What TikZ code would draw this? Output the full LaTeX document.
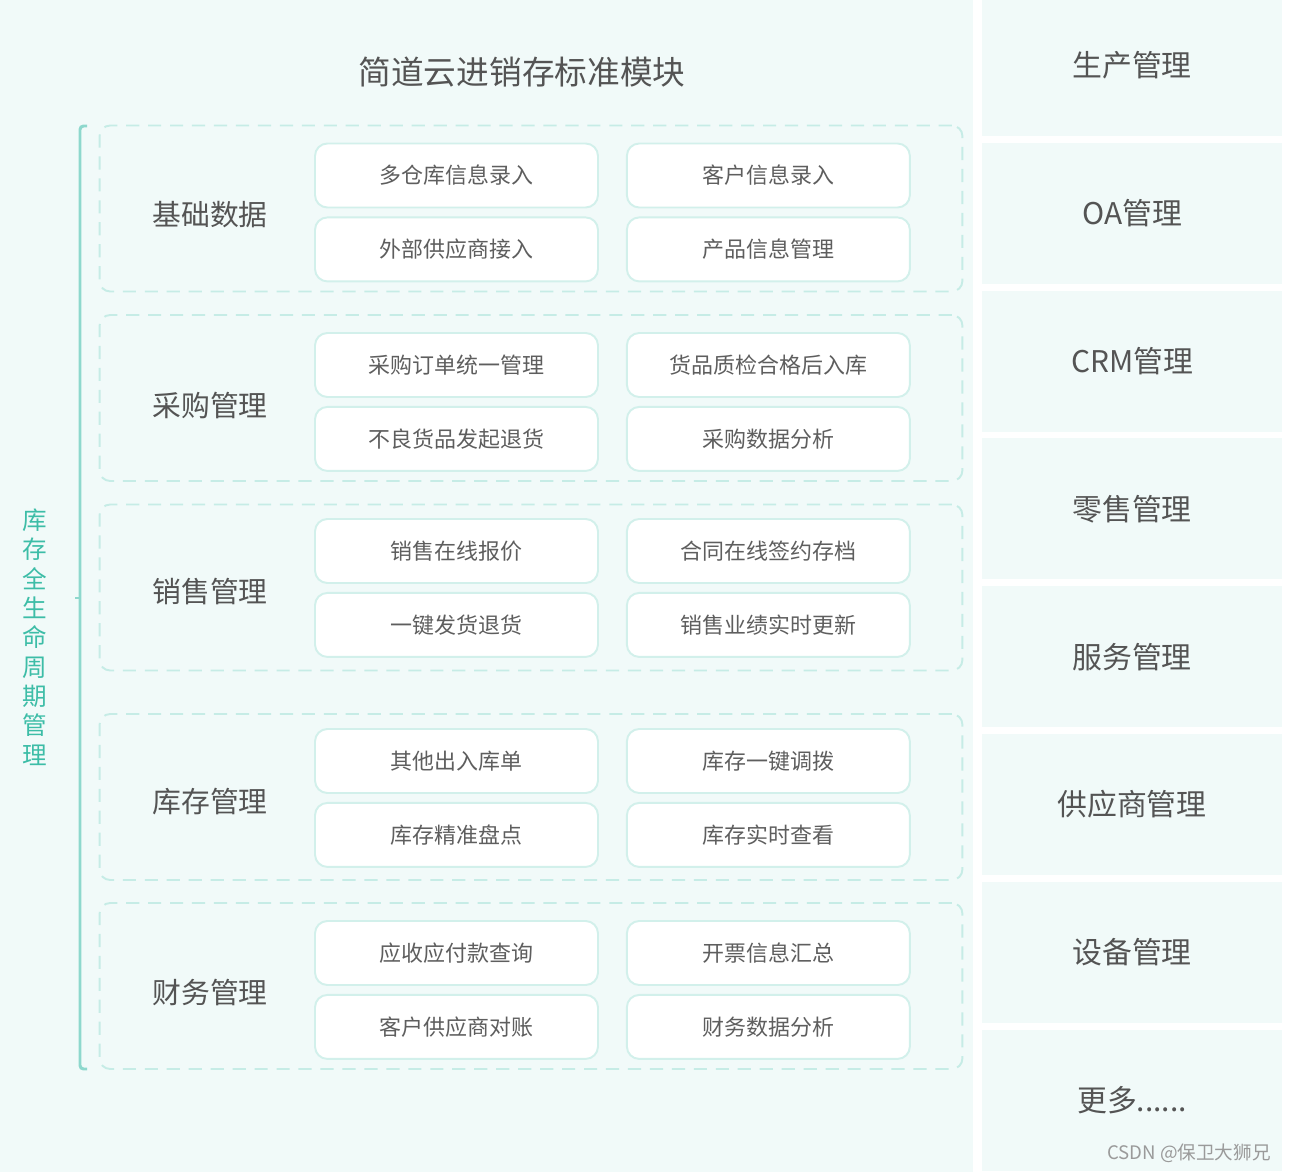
\documentclass[tikz,border=0pt]{standalone}
\usepackage{fontspec}
\setmainfont{Noto Sans CJK SC}
\usepackage{tikz}
\usetikzlibrary{positioning}
\usepackage{xcolor}
\definecolor{mintbg}{HTML}{F1FAF9}
\definecolor{dashteal}{HTML}{C6ECE6}
\definecolor{itemline}{HTML}{D2F0EB}
\definecolor{braceteal}{HTML}{8ED8CD}
\definecolor{sideteal}{HTML}{3DBDA7}
\definecolor{textgray}{HTML}{545454}
\definecolor{itemgray}{HTML}{5E5E5E}
\definecolor{markgray}{HTML}{9A9A9A}
\tikzset{
  groupbox/.style={draw=dashteal,line width=1.1pt,dash pattern=on 7.5pt off 5pt,
    rounded corners=6pt,minimum width=17.26cm,minimum height=3.32cm},
  itembox/.style={draw=itemline,fill=white,line width=1.1pt,rounded corners=7pt,
    minimum width=5.66cm,minimum height=1.28cm,text=itemgray,
    font=\fontsize{12.5}{15}\selectfont},
  grouplabel/.style={text=textgray,font=\fontsize{16.4}{20}\selectfont},
  sidepanel/.style={fill=mintbg,minimum width=6.02cm,minimum height=2.82cm,
    text=textgray,font=\fontsize{17}{20}\selectfont},
  titletext/.style={text=textgray,font=\fontsize{18.6}{22}\selectfont},
  sidetext/.style={text=sideteal,align=center,font=\fontsize{14}{16.7}\selectfont},
  bracket/.style={draw=braceteal,line width=1.7pt,rounded corners=2pt},
  watermark/.style={text=markgray,font=\fontsize{10.6}{12}\selectfont,anchor=east}
}
\begin{document}
\begin{tikzpicture}[x=0.02cm,y=-0.02cm,node distance=0.16cm and 0.54cm]
  \useasboundingbox (0,0) rectangle (1292,1172);
  \fill[white] (0,0) rectangle (1292,1172);
  \fill[mintbg] (0,0) rectangle (973,1172);

  \node[titletext] (title) at (522,72) {简道云进销存标准模块};

  % 左侧竖排标签与括线
  \node[sidetext] (life) at (34.5,637) {库\\存\\全\\生\\命\\周\\期\\管\\理};
  \draw[bracket] (87,126) -| (80,1069) -- (87,1069);
  \draw[bracket] (80,598) -- (75,598);

  % 分组
  \node[groupbox] (g1) at (531,208.5) {};
  \node[groupbox] (g2) at (531,398) {};
  \node[groupbox] (g3) at (531,587.5) {};
  \node[groupbox] (g4) at (531,797) {};
  \node[groupbox] (g5) at (531,986) {};

  \node[grouplabel] (l1) at (210,215) {基础数据};
  \node[grouplabel] (l2) at (210,406) {采购管理};
  \node[grouplabel] (l3) at (210,592) {销售管理};
  \node[grouplabel] (l4) at (210,802) {库存管理};
  \node[grouplabel] (l5) at (210,993) {财务管理};

  \node[itembox] (a1) at (456.5,175.5) {多仓库信息录入};
  \node[itembox,right=of a1] (b1) {客户信息录入};
  \node[itembox,below=of a1] (c1) {外部供应商接入};
  \node[itembox,right=of c1] (d1) {产品信息管理};

  \node[itembox] (a2) at (456.5,365) {采购订单统一管理};
  \node[itembox,right=of a2] (b2) {货品质检合格后入库};
  \node[itembox,below=of a2] (c2) {不良货品发起退货};
  \node[itembox,right=of c2] (d2) {采购数据分析};

  \node[itembox] (a3) at (456.5,551) {销售在线报价};
  \node[itembox,right=of a3] (b3) {合同在线签约存档};
  \node[itembox,below=of a3] (c3) {一键发货退货};
  \node[itembox,right=of c3] (d3) {销售业绩实时更新};

  \node[itembox] (a4) at (456.5,761) {其他出入库单};
  \node[itembox,right=of a4] (b4) {库存一键调拨};
  \node[itembox,below=of a4] (c4) {库存精准盘点};
  \node[itembox,right=of c4] (d4) {库存实时查看};

  \node[itembox] (a5) at (456.5,953) {应收应付款查询};
  \node[itembox,right=of a5] (b5) {开票信息汇总};
  \node[itembox,below=of a5] (c5) {客户供应商对账};
  \node[itembox,right=of c5] (d5) {财务数据分析};

  % 右侧模块
  \foreach \i/\txt in {1/{生产管理},2/{OA管理},3/{CRM管理},4/{零售管理},
                       5/{服务管理},6/{供应商管理},7/{设备管理},8/{更多......}}
    \node[sidepanel] (p\i) at (1132,{65.5+147.8*(\i-1)}) {\txt};

  \node[watermark] (mark) at (1277,1153) {CSDN @保卫大狮兄};
\end{tikzpicture}
\end{document}
